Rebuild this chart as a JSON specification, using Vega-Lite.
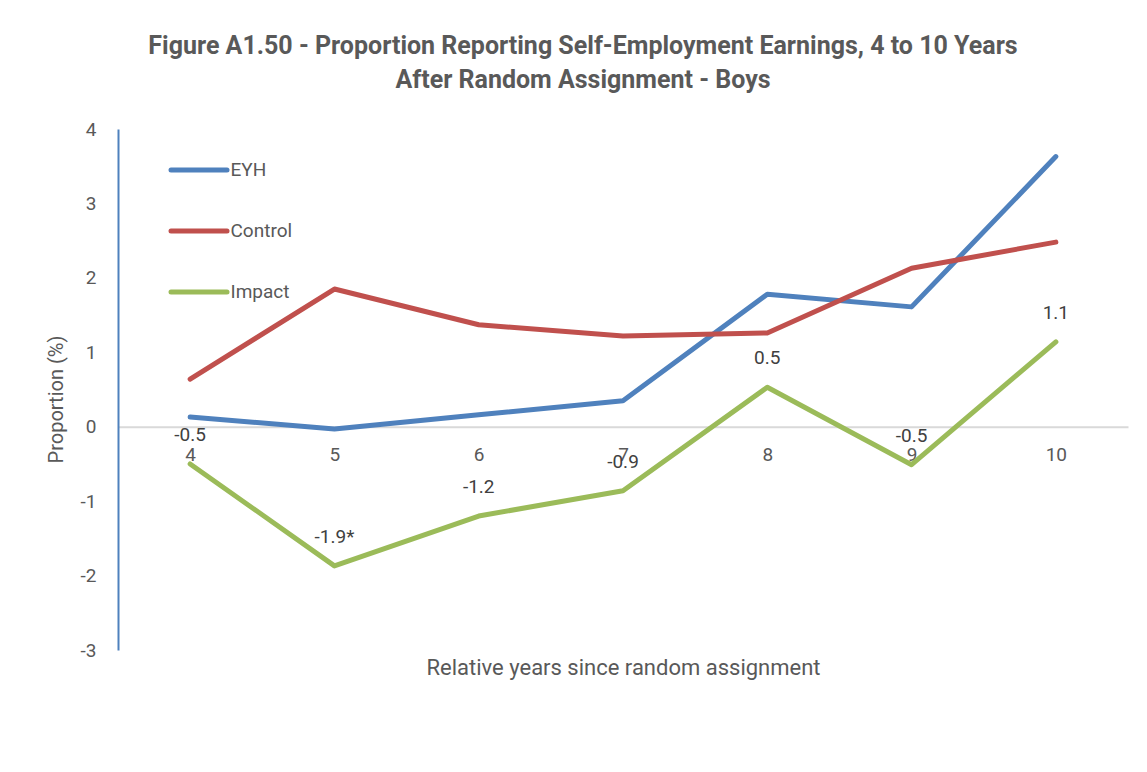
{
  "$schema": "https://vega.github.io/schema/vega-lite/v6.json",
  "autosize": "none",
  "width": 1010,
  "height": 521,
  "padding": {"left": 118, "top": 129, "right": 19, "bottom": 122},
  "background": "white",
  "config": {
    "view": {"stroke": null},
    "font": "Roboto",
    "axis": {"labelFont": "Roboto", "titleFont": "Roboto"},
    "legend": {"labelFont": "Roboto"}
  },
  "title": {
    "text": ["Figure A1.50 - Proportion Reporting Self-Employment Earnings, 4 to 10 Years", "After Random Assignment - Boys"],
    "fontSize": 25,
    "fontWeight": "bold",
    "color": "#595959",
    "font": "Roboto",
    "lineHeight": 34,
    "anchor": "middle",
    "frame": "group",
    "dx": -40,
    "offset": 27
  },
  "data": {
    "values": [
      {"year": "4", "series": "EYH", "value": 0.13},
      {"year": "5", "series": "EYH", "value": -0.03},
      {"year": "6", "series": "EYH", "value": 0.16},
      {"year": "7", "series": "EYH", "value": 0.35},
      {"year": "8", "series": "EYH", "value": 1.78},
      {"year": "9", "series": "EYH", "value": 1.61},
      {"year": "10", "series": "EYH", "value": 3.63},
      {"year": "4", "series": "Control", "value": 0.64},
      {"year": "5", "series": "Control", "value": 1.85},
      {"year": "6", "series": "Control", "value": 1.37},
      {"year": "7", "series": "Control", "value": 1.22},
      {"year": "8", "series": "Control", "value": 1.26},
      {"year": "9", "series": "Control", "value": 2.13},
      {"year": "10", "series": "Control", "value": 2.48},
      {"year": "4", "series": "Impact", "value": -0.5, "label": "-0.5"},
      {"year": "5", "series": "Impact", "value": -1.87, "label": "-1.9*"},
      {"year": "6", "series": "Impact", "value": -1.2, "label": "-1.2"},
      {"year": "7", "series": "Impact", "value": -0.86, "label": "-0.9"},
      {"year": "8", "series": "Impact", "value": 0.53, "label": "0.5"},
      {"year": "9", "series": "Impact", "value": -0.51, "label": "-0.5"},
      {"year": "10", "series": "Impact", "value": 1.14, "label": "1.1"}
    ]
  },
  "encoding": {
    "x": {
      "field": "year",
      "type": "ordinal",
      "sort": ["4", "5", "6", "7", "8", "9", "10"],
      "scale": {"type": "point", "padding": 0.5},
      "axis": {
        "title": "Relative years since random assignment",
        "labelAngle": 0,
        "labelFontSize": 19,
        "labelColor": "#595959",
        "labelPadding": 19,
        "ticks": false,
        "tickSize": 0,
        "domainColor": "#D9D9D9",
        "domainWidth": 2,
        "offset": -223.3,
        "titleFontSize": 22,
        "titleFontWeight": "normal",
        "titleColor": "#595959",
        "titleBaseline": "top",
        "titleAlign": "center",
        "titleX": 505,
        "titleY": 231,
        "zindex": 0
      }
    },
    "y": {
      "field": "value",
      "type": "quantitative",
      "scale": {"domain": [-3, 4], "nice": false, "zero": false},
      "axis": {
        "title": "Proportion (%)",
        "values": [-3, -2, -1, 0, 1, 2, 3, 4],
        "labelExpr": "'' + datum.value",
        "grid": false,
        "ticks": false,
        "tickSize": 0,
        "labelFontSize": 19,
        "labelColor": "#595959",
        "labelPadding": 22,
        "domainColor": "#4F81BD",
        "domainWidth": 2,
        "titleFontSize": 20,
        "titleFontWeight": "normal",
        "titleColor": "#595959",
        "titleBaseline": "alphabetic",
        "titleAlign": "center",
        "titleAngle": -90,
        "titleX": -56,
        "titleY": 270,
        "zindex": 0
      }
    }
  },
  "layer": [
    {
      "mark": {"type": "line", "strokeWidth": 5, "strokeCap": "round", "strokeJoin": "round"},
      "encoding": {
        "color": {
          "field": "series",
          "type": "nominal",
          "scale": {"domain": ["EYH", "Control", "Impact"], "range": ["#4F81BD", "#C0504D", "#9BBB59"]},
          "legend": {
            "title": null,
            "orient": "none",
            "legendX": 50.5,
            "legendY": 10.5,
            "symbolType": "stroke",
            "symbolSize": 3136,
            "symbolStrokeWidth": 5,
            "labelFontSize": 19,
            "labelColor": "#595959",
            "labelOffset": 1,
            "rowPadding": 20,
            "padding": 0,
            "encode": {"symbols": {"update": {"strokeCap": {"value": "round"}}}}
          }
        }
      }
    },
    {
      "transform": [{"filter": "datum.label != null"}],
      "mark": {"type": "text", "fontSize": 19, "color": "#404040", "dy": -29, "baseline": "middle"},
      "encoding": {"text": {"field": "label"}}
    }
  ]
}
